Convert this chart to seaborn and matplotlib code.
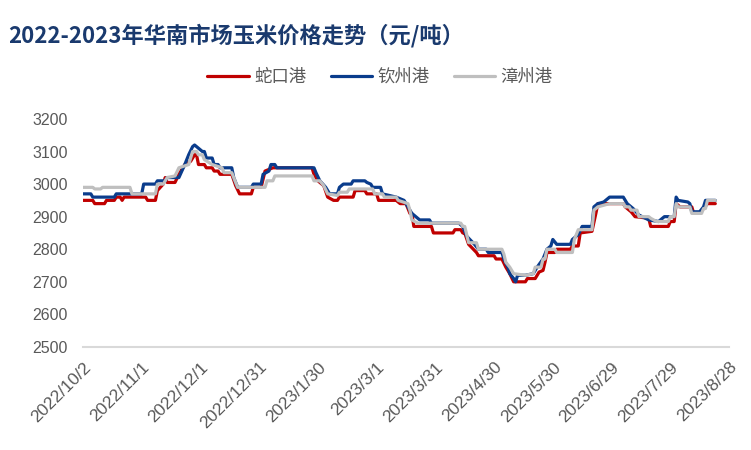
import matplotlib
matplotlib.use("Agg")
import matplotlib.pyplot as plt
import matplotlib.transforms as mtransforms
import seaborn as sns
import pandas as pd

# ---------------- data ----------------
start_date = "2022-10-02"
tick_labels = ["2022/10/2", "2022/11/1", "2022/12/1", "2022/12/31", "2023/1/30", "2023/3/1",
               "2023/3/31", "2023/4/30", "2023/5/30", "2023/6/29", "2023/7/29", "2023/8/28"]
y_ticks = [2500, 2600, 2700, 2800, 2900, 3000, 3100, 3200]

# 蛇口港: day offset from start_date, price
shekou_days = [0, 5, 6, 11, 12, 16, 17, 19, 20, 21, 32, 33, 37, 38, 41, 42, 43, 47, 49, 52, 55, 57,
               58, 59, 62, 63, 66, 67, 69, 70, 76, 78, 80, 86, 87, 91, 93, 97, 117, 118, 120, 123,
               125, 128, 130, 131, 138, 139, 144, 145, 150, 151, 160, 162, 165, 167, 168, 169, 178,
               179, 189, 190, 193, 194, 195, 197, 201, 202, 210, 211, 214, 216, 218, 220, 226, 227,
               231, 233, 235, 236, 237, 241, 242, 249, 250, 253, 254, 260, 262, 263, 276, 277, 280,
               282, 289, 290, 299, 300, 302, 303, 305, 311, 312, 315, 317, 319, 323]
shekou_vals = [2950, 2950, 2940, 2940, 2950, 2950, 2960, 2960, 2950, 2960, 2960, 2950, 2950, 2980,
               3000, 3020, 3005, 3005, 3030, 3060, 3070, 3090, 3090, 3060, 3060, 3050, 3050, 3040,
               3040, 3030, 3030, 2995, 2970, 2970, 2990, 2990, 3040, 3050, 3050, 3030, 3010, 2995,
               2960, 2950, 2950, 2960, 2960, 2980, 2980, 2970, 2970, 2950, 2950, 2940, 2940, 2910,
               2910, 2870, 2870, 2850, 2850, 2860, 2860, 2850, 2850, 2815, 2790, 2780, 2780, 2770,
               2770, 2745, 2725, 2700, 2700, 2710, 2710, 2730, 2735, 2760, 2790, 2790, 2800, 2800,
               2810, 2810, 2850, 2855, 2910, 2940, 2940, 2930, 2915, 2900, 2895, 2870, 2870, 2885,
               2885, 2940, 2930, 2930, 2910, 2910, 2925, 2940, 2940]

# 钦州港
qinzhou_days = [0, 4, 5, 16, 17, 30, 31, 37, 38, 42, 43, 49, 52, 54, 56, 57, 59, 61, 62, 63, 66,
                67, 69, 70, 76, 77, 79, 86, 87, 91, 92, 95, 96, 98, 99, 118, 119, 121, 124, 126, 130,
                131, 133, 137, 138, 144, 145, 147, 148, 152, 153, 160, 164, 166, 168, 170, 172, 177,
                178, 192, 194, 196, 200, 202, 206, 207, 214, 215, 217, 218, 220, 221, 222, 226, 230,
                232, 235, 237, 239, 240, 242, 249, 250, 253, 255, 260, 261, 263, 266, 269, 276, 277,
                278, 281, 284, 289, 294, 297, 302, 303, 304, 309, 310, 311, 315, 317, 318, 323]
qinzhou_vals = [2970, 2970, 2960, 2960, 2970, 2970, 3000, 3000, 3010, 3010, 3020, 3020, 3060, 3090,
                3115, 3120, 3110, 3100, 3100, 3080, 3080, 3060, 3060, 3050, 3050, 3020, 2990, 2990,
                3000, 3000, 3030, 3040, 3060, 3060, 3050, 3050, 3035, 3010, 2990, 2970, 2970, 2990,
                3000, 3000, 3010, 3010, 3005, 3000, 2990, 2990, 2970, 2960, 2950, 2930, 2910, 2900,
                2890, 2890, 2880, 2880, 2870, 2840, 2815, 2800, 2800, 2790, 2790, 2770, 2745, 2725,
                2710, 2700, 2720, 2720, 2725, 2745, 2770, 2800, 2810, 2830, 2815, 2815, 2830, 2845,
                2870, 2870, 2930, 2940, 2945, 2960, 2960, 2950, 2940, 2925, 2905, 2890, 2885, 2900,
                2900, 2960, 2950, 2945, 2940, 2915, 2915, 2930, 2950, 2950]

# 漳州港
zhangzhou_days = [0, 5, 6, 9, 10, 24, 25, 37, 38, 41, 43, 47, 49, 54, 56, 58, 59, 61, 62, 66, 71,
                  72, 76, 78, 79, 93, 94, 97, 98, 117, 118, 121, 123, 125, 130, 131, 135, 136, 148,
                  149, 153, 154, 160, 161, 166, 167, 168, 171, 193, 194, 195, 197, 201, 202, 214,
                  215, 216, 218, 220, 226, 230, 231, 234, 235, 236, 237, 241, 242, 250, 251, 253,
                  260, 261, 263, 269, 276, 277, 279, 280, 283, 284, 289, 290, 293, 294, 299, 300,
                  302, 303, 304, 310, 311, 316, 317, 318, 319, 323]
zhangzhou_vals = [2990, 2990, 2985, 2985, 2990, 2990, 2970, 2970, 3000, 3000, 3020, 3025, 3050,
                  3060, 3100, 3100, 3090, 3090, 3075, 3060, 3050, 3035, 3035, 3005, 2990, 2990,
                  3010, 3010, 3025, 3025, 3010, 3010, 2995, 2970, 2965, 2975, 2975, 2985, 2985,
                  2970, 2970, 2960, 2960, 2950, 2940, 2920, 2890, 2880, 2880, 2870, 2870, 2820,
                  2820, 2800, 2800, 2785, 2760, 2745, 2725, 2720, 2725, 2745, 2745, 2770, 2770,
                  2800, 2800, 2790, 2790, 2830, 2860, 2860, 2920, 2930, 2940, 2940, 2930, 2930,
                  2920, 2920, 2900, 2900, 2895, 2885, 2885, 2885, 2900, 2900, 2940, 2930, 2930,
                  2910, 2910, 2925, 2925, 2950, 2950]

series_names = ["蛇口港", "钦州港", "漳州港"]
series_colors = ["#C00000", "#0A3C8C", "#BFBFBF"]

# ---------------- build table ----------------
t0 = pd.Timestamp(start_date)
frames = []
for name, days, vals in [("蛇口港", shekou_days, shekou_vals),
                         ("钦州港", qinzhou_days, qinzhou_vals),
                         ("漳州港", zhangzhou_days, zhangzhou_vals)]:
    frames.append(pd.DataFrame({"date": t0 + pd.to_timedelta(days, unit="D"),
                                "price": vals, "port": name}))
df = pd.concat(frames, ignore_index=True)

# ---------------- plotting ----------------
sns.set_theme(style="white")
plt.rcParams["font.family"] = ["Noto Sans CJK SC", "DejaVu Sans"]

fig = plt.figure(figsize=(7.51, 4.5), dpi=100)
ax = fig.add_axes([0.1105, 0.229, 0.8602, 0.5067])

sns.lineplot(data=df, x="date", y="price", hue="port", hue_order=series_names,
             palette=dict(zip(series_names, series_colors)), linewidth=2.3,
             estimator=None, sort=True, ax=ax, legend=True)
# drawing order like the source: red, then blue, grey on top
zmap = {"#C00000": 2, "#0A3C8C": 3, "#BFBFBF": 4}
for line in ax.get_lines():
    c = matplotlib.colors.to_hex(line.get_color()).upper()
    line.set_zorder(zmap.get(c, 2))

tick_dates = [pd.Timestamp(s.replace("/", "-")) for s in tick_labels]
ax.set_xlim(tick_dates[0], tick_dates[-1])
ax.set_xticks(tick_dates)
ax.set_xticklabels(tick_labels, rotation=45, ha="right", rotation_mode="anchor",
                   fontsize=12.5, color="#595959", family="Liberation Sans")
shift = mtransforms.ScaledTranslation(-5 / 100, 0, fig.dpi_scale_trans)
for lab in ax.get_xticklabels():
    lab.set_transform(lab.get_transform() + shift)
ax.set_ylim(2500, 3200)
ax.set_yticks(y_ticks)
ax.set_yticklabels([str(v) for v in y_ticks], fontsize=11.5, color="#595959",
                   family="Liberation Sans")
ax.tick_params(axis="x", length=0, pad=9)
ax.tick_params(axis="y", length=0, pad=11)
ax.set_xlabel("")
ax.set_ylabel("")
for s in ["top", "right", "left"]:
    ax.spines[s].set_visible(False)
ax.spines["bottom"].set_color("#D9D9D9")
ax.spines["bottom"].set_linewidth(1.5)
ax.grid(False)

handles, labels = ax.get_legend_handles_labels()
ax.legend(handles, labels, loc="center", bbox_to_anchor=(380 / 751, 1 - 77 / 450),
          bbox_transform=fig.transFigure, ncol=3, frameon=False, fontsize=12.5,
          handlelength=2.4, handletextpad=0.3, columnspacing=1.4, labelcolor="#595959")

fig.text(8 / 751, 1 - 36 / 450, "2022-2023年华南市场玉米价格走势（元/吨）",
         fontsize=16, fontweight="bold", color="#1A3A6E", ha="left", va="center")

fig.savefig("out.png", dpi=100)
